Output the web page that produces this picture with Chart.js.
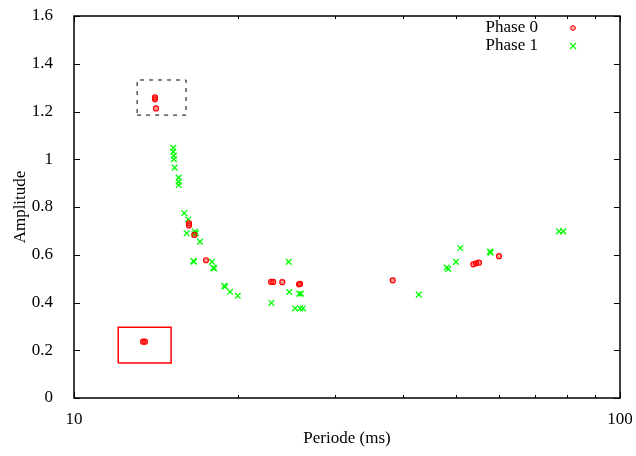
<!DOCTYPE html>
<html lang="en">
<head>
  <meta charset="UTF-8">
  <title>Amplitude vs Periode</title>
  <script src="https://cdn.jsdelivr.net/npm/chart.js"></script>
  <style>
    body { margin: 0; background: #fff; }
    .wrap { width: 636px; height: 456px; position: relative; }
  </style>
</head>
<body>
<div class="wrap"><canvas id="periodChart"></canvas></div>
<script>
  // values (periode in ms, amplitude)
  const phase0X = [14.07, 14.07, 14.13, 13.38, 13.49, 16.24, 16.24, 16.61, 17.45, 22.96, 23.17, 24.07, 25.83, 25.94, 38.35, 53.86, 54.49, 55.18, 60.03];
  const phase0Y = [1.259, 1.251, 1.213, 0.236, 0.236, 0.732, 0.723, 0.683, 0.577, 0.486, 0.486, 0.485, 0.476, 0.478, 0.493, 0.560, 0.564, 0.567, 0.594];

  const phase1X = [15.20, 15.20, 15.24, 15.24, 15.29, 15.55, 15.55, 15.55, 15.92, 16.19, 16.08, 16.66, 16.73, 16.61, 17.01, 16.54, 16.59, 17.89, 17.99, 18.07, 18.91, 18.85, 19.31, 19.95, 24.73, 24.79, 25.86, 26.05, 22.99, 25.40, 25.94, 26.27, 42.79, 48.16, 48.48, 50.08, 51.00, 57.79, 57.97, 77.33, 78.75];
  const phase1Y = [1.048, 1.032, 1.015, 1.000, 0.965, 0.923, 0.906, 0.892, 0.774, 0.748, 0.690, 0.697, 0.690, 0.686, 0.655, 0.574, 0.571, 0.570, 0.545, 0.543, 0.466, 0.470, 0.445, 0.428, 0.570, 0.444, 0.437, 0.437, 0.398, 0.375, 0.375, 0.375, 0.433, 0.546, 0.540, 0.570, 0.628, 0.613, 0.609, 0.698, 0.698];

  // highlighted regions: [min, max]
  const dashBoxX = [13.05, 16.04];
  const dashBoxY = [1.185, 1.332];
  const redBoxX = [12.05, 15.06];
  const redBoxY = [0.147, 0.296];

  const xTicks = [10, 20, 30, 40, 50, 60, 70, 80, 90, 100];
  const xLabelled = [10, 100];
  const yTicks = [0, 0.2, 0.4, 0.6, 0.8, 1, 1.2, 1.4, 1.6];

  const seriesNames = ['Phase 0', 'Phase 1'];

  const FONT = 'Liberation Serif';

  function toPoints(xs, ys) {
    return xs.map((x, i) => ({ x: x, y: ys[i] }));
  }
  function boxPath(bx, by) {
    return [
      { x: bx[0], y: by[0] }, { x: bx[1], y: by[0] },
      { x: bx[1], y: by[1] }, { x: bx[0], y: by[1] },
      { x: bx[0], y: by[0] }
    ];
  }

  // frame, inward ticks and the gnuplot-like key
  const framePlugin = {
    id: 'frame',
    afterDraw(chart) {
      const ctx = chart.ctx;
      const a = chart.chartArea;
      const xs = chart.scales.x, ys = chart.scales.y;
      ctx.save();
      ctx.strokeStyle = '#000';
      ctx.lineWidth = 1;
      ctx.beginPath();
      yTicks.forEach(v => {
        const py = Math.round(ys.getPixelForValue(v)) + 0.5;
        ctx.moveTo(a.left, py); ctx.lineTo(a.left + 6, py);
        ctx.moveTo(a.right, py); ctx.lineTo(a.right - 6, py);
      });
      xTicks.forEach(v => {
        const px = Math.round(xs.getPixelForValue(v)) + 0.5;
        const len = xLabelled.includes(v) ? 6 : 3;
        ctx.moveTo(px, a.bottom); ctx.lineTo(px, a.bottom - len);
        ctx.moveTo(px, a.top); ctx.lineTo(px, a.top + len);
      });
      ctx.stroke();
      ctx.lineWidth = 1.5;
      ctx.strokeRect(a.left, a.top, a.right - a.left, a.bottom - a.top);

      // key
      ctx.font = '17px "' + FONT + '"';
      ctx.fillStyle = '#000';
      ctx.textAlign = 'right';
      ctx.textBaseline = 'middle';
      ctx.fillText(seriesNames[0], 538, 28);
      ctx.fillText(seriesNames[1], 538, 46);

      ctx.strokeStyle = 'red';
      ctx.fillStyle = 'rgba(255,0,0,0.35)';
      ctx.lineWidth = 1;
      ctx.beginPath();
      ctx.arc(573, 28, 2.4, 0, Math.PI * 2);
      ctx.fill(); ctx.stroke();
      ctx.strokeStyle = '#00ff00';
      ctx.lineWidth = 1.2;
      ctx.beginPath();
      ctx.moveTo(570, 43); ctx.lineTo(576, 49);
      ctx.moveTo(576, 43); ctx.lineTo(570, 49);
      ctx.stroke();
      ctx.restore();
    }
  };

  new Chart(document.getElementById('periodChart'), {
    type: 'scatter',
    data: {
      datasets: [
        {
          label: seriesNames[0],
          data: toPoints(phase0X, phase0Y),
          pointStyle: 'circle',
          pointRadius: 2.5,
          borderWidth: 1.2,
          borderColor: '#ff0000',
          backgroundColor: 'rgba(255,0,0,0.4)',
          order: 1
        },
        {
          label: seriesNames[1],
          data: toPoints(phase1X, phase1Y),
          pointStyle: 'crossRot',
          pointRadius: 4,
          borderWidth: 1.3,
          borderColor: '#00ff00',
          backgroundColor: '#00ff00',
          order: 2
        },
        {
          label: 'box1',
          data: boxPath(dashBoxX, dashBoxY),
          showLine: true,
          pointRadius: 0,
          borderColor: '#000',
          borderWidth: 1,
          borderDash: [4, 5],
          tension: 0
        },
        {
          label: 'box2',
          data: boxPath(redBoxX, redBoxY),
          showLine: true,
          pointRadius: 0,
          borderColor: '#ff0000',
          borderWidth: 1.5,
          tension: 0
        }
      ]
    },
    options: {
      responsive: true,
      maintainAspectRatio: false,
      animation: false,
      layout: { padding: { top: 16, right: 16, left: 0, bottom: 0 } },
      plugins: {
        legend: { display: false },
        tooltip: { enabled: false }
      },
      scales: {
        x: {
          type: 'logarithmic',
          min: 10,
          max: 100,
          afterFit: (s) => {
            s.height = 58;
            s.paddingLeft = 0;
            s.paddingRight = 0;
          },
          afterBuildTicks: (s) => { s.ticks = xTicks.map(v => ({ value: v })); },
          grid: { display: false },
          border: { display: false },
          ticks: {
            autoSkip: false,
            maxRotation: 0,
            padding: 3,
            color: '#000',
            font: { family: FONT, size: 17 },
            callback: (v) => xLabelled.includes(v) ? String(v) : ''
          },
          title: {
            display: true,
            text: 'Periode (ms)',
            color: '#000',
            font: { family: FONT, size: 17 },
            padding: { top: 0, bottom: 7 }
          }
        },
        y: {
          min: 0,
          max: 1.6,
          afterFit: (s) => {
            s.width = 74;
            s.paddingTop = 0;
            s.paddingBottom = 0;
          },
          afterBuildTicks: (s) => { s.ticks = yTicks.map(v => ({ value: v })); },
          grid: { display: false },
          border: { display: false },
          ticks: {
            padding: 13,
            color: '#000',
            font: { family: FONT, size: 17 },
            callback: (v) => String(Math.round(v * 10) / 10)
          },
          title: {
            display: true,
            text: 'Amplitude',
            color: '#000',
            font: { family: FONT, size: 17 },
            padding: { top: 10, bottom: 0 }
          }
        }
      }
    },
    plugins: [framePlugin]
  });
</script>
</body>
</html>
